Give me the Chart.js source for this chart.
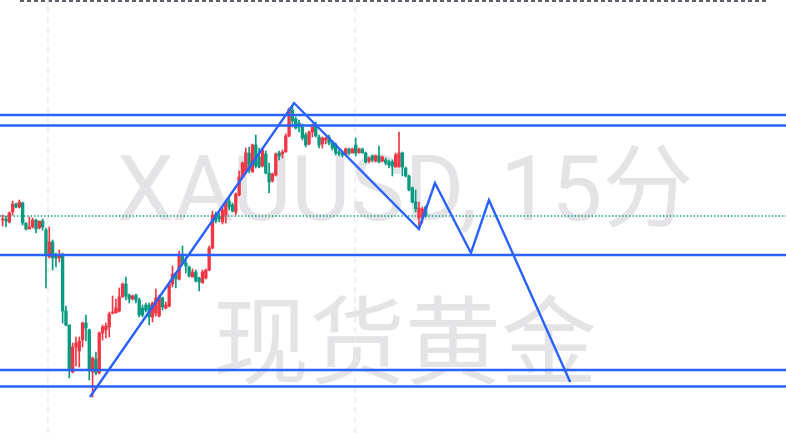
<!DOCTYPE html>
<html>
<head>
<meta charset="utf-8">
<script src="https://cdn.jsdelivr.net/npm/chart.js@4.4.1/dist/chart.umd.min.js"></script>
<style>
  html, body { margin: 0; padding: 0; background: #fff; overflow: hidden; }
  #chart { display: block; }
</style>
</head>
<body>
<canvas id="chart" width="786" height="433"></canvas>
<script>
// XAUUSD 15m candles, oldest first
const open = [
  2378.0, 2378.1, 2377.8, 2378.8, 2379.6, 2379.3, 2379.7, 2377.7, 2377.1, 2377.3,
  2378.0, 2377.2, 2377.9, 2377.0, 2374.3, 2375.8, 2374.5, 2374.2, 2374.5, 2368.9,
  2367.5, 2362.8, 2365.3, 2364.9, 2366.0, 2367.7, 2367.0, 2362.8, 2364.1, 2362.7,
  2366.7, 2367.0, 2367.3, 2368.7, 2368.7, 2368.9, 2370.3, 2371.6, 2370.5, 2370.1,
  2370.5, 2370.0, 2369.2, 2369.5, 2369.5, 2368.3, 2368.7, 2368.4, 2370.2, 2369.2,
  2369.4, 2371.6, 2372.7, 2372.1, 2374.5, 2373.7, 2373.3, 2372.3, 2372.8, 2372.2,
  2371.7, 2372.2, 2373.0, 2375.2, 2378.6, 2378.4, 2377.8, 2378.5, 2379.9, 2379.5,
  2378.8, 2380.5, 2382.3, 2382.8, 2384.7, 2382.8, 2385.5, 2384.3, 2383.4, 2384.6,
  2382.7, 2381.9, 2382.5, 2384.7, 2384.6, 2384.8, 2386.4, 2389.0, 2388.1, 2387.7,
  2387.3, 2386.5, 2385.6, 2386.8, 2387.5, 2386.3, 2385.6, 2386.0, 2386.3, 2385.7,
  2385.5, 2384.8, 2384.7, 2384.5, 2385.1, 2384.7, 2385.5, 2384.7, 2385.1, 2384.7,
  2383.9, 2384.4, 2383.9, 2384.4, 2383.9, 2384.0, 2383.8, 2383.8, 2383.3, 2383.3,
  2384.7, 2383.2, 2382.4, 2381.2, 2379.8, 2378.2, 2378.3, 2379.3
];
const high = [
  2378.5, 2378.4, 2378.8, 2379.9, 2379.7, 2380.0, 2379.8, 2377.7, 2378.3, 2378.2,
  2378.1, 2377.9, 2378.1, 2377.2, 2377.3, 2376.0, 2374.7, 2375.0, 2374.7, 2369.4,
  2367.5, 2365.7, 2366.3, 2366.3, 2367.8, 2368.5, 2367.1, 2364.3, 2364.8, 2366.8,
  2367.5, 2367.7, 2368.8, 2370.4, 2370.1, 2371.2, 2371.7, 2372.3, 2370.6, 2370.5,
  2370.6, 2370.2, 2369.5, 2369.7, 2369.7, 2369.8, 2371.1, 2370.5, 2370.3, 2369.8,
  2371.7, 2373.4, 2372.7, 2374.9, 2375.4, 2374.3, 2373.4, 2373.1, 2373.0, 2372.3,
  2373.0, 2373.1, 2375.4, 2378.9, 2378.8, 2378.7, 2379.2, 2380.0, 2380.2, 2379.7,
  2380.7, 2382.9, 2383.8, 2385.2, 2385.3, 2385.6, 2386.5, 2385.2, 2385.2, 2384.9,
  2383.7, 2382.7, 2384.7, 2384.9, 2385.0, 2386.6, 2389.2, 2389.5, 2388.3, 2388.0,
  2387.6, 2386.7, 2386.9, 2387.6, 2387.8, 2386.5, 2386.3, 2386.3, 2386.5, 2385.9,
  2385.7, 2385.0, 2384.9, 2385.2, 2385.2, 2385.2, 2386.2, 2385.2, 2385.2, 2384.8,
  2384.3, 2384.5, 2384.5, 2385.4, 2384.4, 2384.2, 2384.0, 2384.0, 2384.7, 2386.8,
  2384.8, 2383.3, 2382.5, 2381.3, 2381.0, 2379.8, 2379.3, 2379.4
];
const low = [
  2377.4, 2377.3, 2377.7, 2378.5, 2379.2, 2379.2, 2377.5, 2377.0, 2377.1, 2377.2,
  2376.7, 2377.1, 2377.0, 2371.2, 2374.2, 2373.0, 2373.3, 2373.8, 2367.7, 2367.4,
  2362.2, 2362.7, 2363.4, 2363.3, 2365.3, 2365.9, 2362.0, 2360.3, 2362.5, 2362.6,
  2366.0, 2366.2, 2366.3, 2368.6, 2368.7, 2368.8, 2370.3, 2370.0, 2369.7, 2370.0,
  2369.7, 2368.3, 2368.3, 2368.8, 2367.5, 2367.8, 2368.4, 2368.3, 2369.0, 2369.1,
  2369.3, 2371.3, 2371.2, 2372.0, 2373.6, 2372.7, 2372.3, 2372.3, 2371.8, 2370.9,
  2371.7, 2372.1, 2372.9, 2375.1, 2377.7, 2377.8, 2377.6, 2377.7, 2379.0, 2378.8,
  2378.5, 2380.4, 2382.2, 2382.7, 2382.7, 2382.8, 2383.2, 2383.2, 2383.3, 2382.6,
  2380.7, 2381.8, 2382.4, 2384.0, 2384.2, 2384.8, 2386.3, 2387.3, 2387.1, 2386.8,
  2386.0, 2385.3, 2385.5, 2386.3, 2386.3, 2385.2, 2385.2, 2385.6, 2385.5, 2385.0,
  2384.5, 2384.4, 2384.3, 2384.4, 2384.5, 2384.7, 2384.4, 2384.7, 2384.7, 2383.7,
  2383.7, 2383.8, 2383.8, 2383.7, 2383.8, 2383.5, 2383.2, 2382.4, 2383.3, 2383.3,
  2382.4, 2382.3, 2380.9, 2379.7, 2378.8, 2377.2, 2377.7, 2378.3
];
const close = [
  2378.1, 2377.9, 2378.7, 2379.6, 2379.3, 2379.8, 2377.7, 2377.1, 2377.3, 2378.0,
  2377.1, 2377.9, 2377.3, 2374.5, 2375.8, 2374.2, 2374.2, 2374.5, 2368.9, 2367.5,
  2363.0, 2365.3, 2365.7, 2365.9, 2367.7, 2367.2, 2363.0, 2364.2, 2362.7, 2366.7,
  2367.3, 2367.4, 2368.6, 2368.8, 2369.2, 2370.3, 2371.6, 2370.4, 2370.1, 2370.4,
  2370.0, 2368.5, 2368.5, 2369.0, 2368.3, 2369.7, 2370.2, 2370.3, 2369.3, 2369.5,
  2371.6, 2372.6, 2372.1, 2374.6, 2373.7, 2373.4, 2372.4, 2372.8, 2371.9, 2371.8,
  2372.8, 2373.0, 2375.2, 2378.5, 2377.9, 2378.1, 2379.0, 2379.8, 2379.3, 2378.9,
  2380.6, 2382.3, 2383.7, 2384.7, 2383.0, 2385.5, 2383.4, 2383.3, 2385.0, 2382.7,
  2381.8, 2382.6, 2384.6, 2384.4, 2384.8, 2386.4, 2389.1, 2387.9, 2387.2, 2387.3,
  2386.2, 2385.5, 2386.8, 2387.3, 2386.4, 2385.5, 2386.2, 2386.2, 2385.7, 2385.2,
  2384.7, 2384.6, 2384.5, 2385.1, 2384.7, 2385.1, 2384.7, 2385.1, 2384.7, 2383.8,
  2384.2, 2384.0, 2384.4, 2383.8, 2384.3, 2383.7, 2383.5, 2383.4, 2384.5, 2384.7,
  2383.3, 2382.4, 2381.0, 2379.8, 2379.1, 2379.2, 2379.1, 2378.4
];

// drawings on the chart (bar index / price)
const levels = [2388.5, 2387.45, 2374.5, 2363.0, 2361.35];
const zigzagX = [26.2, 87.5, 125.0, 129.8, 140.6, 146.0, 170.4];
const zigzagY = [2360.3, 2389.7, 2377.1, 2381.7, 2374.7, 2380.0, 2361.8];
const sessionX = [13.6, 105.8];
const topRuleX = [5.2, 229.2];

const xMin = -0.8, xMax = 235.2;
const yMin = 2356.7, yMax = 2400;

const UP = '#f23645', DOWN = '#089981', BLUE = '#2962ff';
const bars = open.map((_, i) => i);
const candleColors = bars.map(i => close[i] >= open[i] ? UP : DOWN);
const lastClose = close[close.length - 1];

// big grey symbol text behind the candles
const watermark = {
  id: 'watermark',
  beforeDatasetsDraw(chart) {
    const { ctx, chartArea } = chart;
    ctx.save();
    ctx.fillStyle = '#e4e4e7';
    ctx.textAlign = 'center';
    ctx.textBaseline = 'alphabetic';
    ctx.font = '91px Roboto, "Noto Sans CJK SC", sans-serif';
    ctx.fillText('XAUUSD, 15分', chartArea.left + 405, chartArea.top + 220);
    ctx.font = '96px "Noto Sans CJK SC", sans-serif';
    ctx.fillText('现货黄金', chartArea.left + 405, chartArea.top + 376);
    ctx.restore();
  }
};

function lineSet(points, color, width, dash, order) {
  return {
    type: 'line',
    data: points,
    borderColor: color,
    borderWidth: width,
    borderDash: dash,
    pointRadius: 0,
    fill: false,
    tension: 0,
    order: order
  };
}

const datasets = [];

sessionX.forEach(sx => {
  datasets.push(lineSet([{ x: sx, y: yMin }, { x: sx, y: yMax }], '#ebebee', 1.5, [6, 4], 10));
});
datasets.push(lineSet([{ x: topRuleX[0], y: 2399.9 }, { x: topRuleX[1], y: 2399.9 }], '#5d606b', 2, [4, 3], 10));
datasets.push(lineSet([{ x: xMin, y: lastClose }, { x: xMax, y: lastClose }], DOWN, 1.4, [1.4, 2], 9));

// wicks
datasets.push({
  type: 'bar',
  data: bars.map(i => ({ x: i, y: [low[i], high[i]] })),
  backgroundColor: candleColors,
  borderWidth: 0,
  barThickness: 1,
  grouped: false,
  order: 5
});
// bodies
datasets.push({
  type: 'bar',
  data: bars.map(i => ({ x: i, y: [open[i], close[i]] })),
  backgroundColor: candleColors,
  borderWidth: 0,
  barThickness: 2.7,
  minBarLength: 1,
  grouped: false,
  order: 4
});

levels.forEach(lv => {
  datasets.push(lineSet([{ x: xMin, y: lv }, { x: xMax, y: lv }], BLUE, 2.5, [], 1));
});
datasets.push(lineSet(zigzagX.map((x, i) => ({ x: x, y: zigzagY[i] })), BLUE, 2.4, [], 1));

new Chart(document.getElementById('chart').getContext('2d'), {
  type: 'bar',
  data: { datasets: datasets },
  options: {
    responsive: false,
    animation: false,
    events: [],
    layout: { padding: 0 },
    plugins: {
      legend: { display: false },
      tooltip: { enabled: false }
    },
    scales: {
      x: { type: 'linear', min: xMin, max: xMax, offset: false, display: false },
      y: { type: 'linear', min: yMin, max: yMax, display: false }
    }
  },
  plugins: [watermark]
});
</script>
</body>
</html>
